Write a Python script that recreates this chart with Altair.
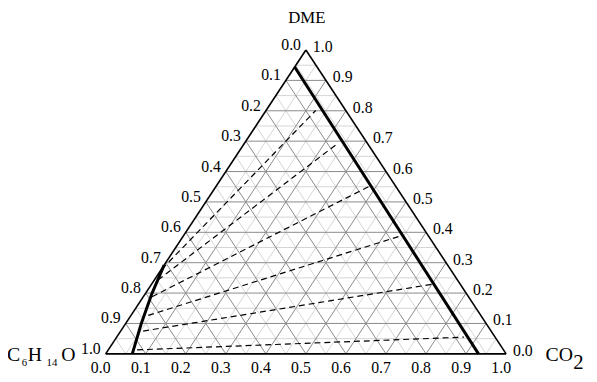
import altair as alt
import pandas as pd

# ---------------- data (ternary fractions) ----------------
minor_levels = [0.05, 0.15, 0.25, 0.35, 0.45, 0.55, 0.65, 0.75, 0.85, 0.95]
major_levels = [0.1, 0.2, 0.3, 0.4, 0.5, 0.6, 0.7, 0.8, 0.9]
tick_values = [0.0, 0.1, 0.2, 0.3, 0.4, 0.5, 0.6, 0.7, 0.8, 0.9, 1.0]

# CO2-rich boundary (CO2, DME)
right_co2 = [0.0, 0.931]
right_dme = [0.944, 0.0]
# C6H14O-rich boundary (CO2, DME)
left_co2 = [0.0, 0.016, 0.039, 0.0665]
left_dme = [0.292, 0.2, 0.1, 0.0]

# dashed lines: start / end (CO2, DME)
dash_start_co2 = [0.072, 0.056, 0.043, 0.022, 0.009, 0.001]
dash_start_dme = [0.013, 0.075, 0.1265, 0.188, 0.243, 0.279]
dash_end_co2 = [0.867, 0.705, 0.544, 0.382, 0.234, 0.124]
dash_end_dme = [0.055, 0.230, 0.389, 0.551, 0.694, 0.801]


def cart(co2, dme):
    return co2 + dme / 2.0, dme


def seg_rows(levels):
    rows = []
    for v in levels:
        for a, b in [((0, v), (1 - v, v)), ((v, 0), (v, 1 - v)), ((1 - v, 0), (0, 1 - v))]:
            x1, y1 = cart(*a)
            x2, y2 = cart(*b)
            rows.append({"x": x1, "y": y1, "x2": x2, "y2": y2})
    return pd.DataFrame(rows)


minor_df = seg_rows(minor_levels)
major_df = seg_rows(major_levels)

border_pts = [(0, 0), (1, 0), (0, 1), (0, 0)]
border_df = pd.DataFrame(
    [{"x": cart(*border_pts[i])[0], "y": cart(*border_pts[i])[1],
      "x2": cart(*border_pts[i + 1])[0], "y2": cart(*border_pts[i + 1])[1]} for i in range(3)]
)

dash_df = pd.DataFrame(
    [{"x": cart(a, b)[0], "y": cart(a, b)[1], "x2": cart(c, d)[0], "y2": cart(c, d)[1]}
     for a, b, c, d in zip(dash_start_co2, dash_start_dme, dash_end_co2, dash_end_dme)]
)

bound_rows = []
for name, cs, ds in [("right", right_co2, right_dme), ("left", left_co2, left_dme)]:
    for i, (c, d) in enumerate(zip(cs, ds)):
        x, y = cart(c, d)
        bound_rows.append({"curve": name, "order": i, "x": x, "y": y})
bound_df = pd.DataFrame(bound_rows)

bottom_df = pd.DataFrame([{"x": cart(v, 0)[0], "y": 0, "t": f"{v:.1f}"} for v in tick_values])
left_df = pd.DataFrame([{"x": cart(0, 1 - v)[0], "y": 1 - v, "t": f"{v:.1f}"} for v in tick_values])
right_df = pd.DataFrame([{"x": cart(1 - v, v)[0], "y": v, "t": f"{v:.1f}"} for v in tick_values])

# ---------------- chart ----------------
sx = alt.Scale(domain=[0, 1], nice=False, zero=False)
sy = alt.Scale(domain=[0, 1], nice=False, zero=False)
X = alt.X("x:Q", scale=sx, axis=None)
Y = alt.Y("y:Q", scale=sy, axis=None)
FONT = "Liberation Serif"


def rules(df, **kw):
    return alt.Chart(df).mark_rule(**kw).encode(x=X, y=Y, x2="x2:Q", y2="y2:Q")


minor = rules(minor_df, color="#d4d4d4", strokeWidth=1)
major = rules(major_df, color="#8a8a8a", strokeWidth=1)
border = rules(border_df, color="black", strokeWidth=1.6)
dashed = rules(dash_df, color="black", strokeWidth=1.2, strokeDash=[6, 4])
bounds = alt.Chart(bound_df).mark_line(color="black", strokeWidth=3, strokeJoin="round").encode(
    x=X, y=Y, detail="curve:N", order="order:Q"
)

bottom_lbl = alt.Chart(bottom_df).mark_text(
    font=FONT, fontSize=16, align="center", baseline="middle", dx=-5, dy=14, color="black"
).encode(x=X, y=Y, text="t:N")
left_lbl = alt.Chart(left_df).mark_text(
    font=FONT, fontSize=16, align="right", baseline="middle", dx=-5, dy=-5, color="black"
).encode(x=X, y=Y, text="t:N")
right_lbl = alt.Chart(right_df).mark_text(
    font=FONT, fontSize=16, align="left", baseline="middle", dx=7, dy=-3, color="black"
).encode(x=X, y=Y, text="t:N")


def title_txt(text, xv, yv, size, dx, dy, align="left", baseline="alphabetic"):
    return alt.Chart(pd.DataFrame([{"x": xv, "y": yv, "t": text}])).mark_text(
        font=FONT, fontSize=size, align=align, baseline=baseline, dx=dx, dy=dy, color="black"
    ).encode(x=X, y=Y, text="t:N")


titles = [
    title_txt("DME", 0.5, 1.0, 17, 1, -27, align="center", baseline="alphabetic"),
    title_txt("C", 0.0, 0.0, 20, -100, 7),
    title_txt("6", 0.0, 0.0, 11, -85, 12),
    title_txt("H", 0.0, 0.0, 20, -79, 7),
    title_txt("14", 0.0, 0.0, 11, -60, 12),
    title_txt("O", 0.0, 0.0, 20, -45, 7),
    title_txt("CO", 1.0, 0.0, 20, 40, 7),
    title_txt("2", 1.0, 0.0, 21, 68, 15),
]

chart = alt.layer(
    minor, major, border, dashed, bounds, bottom_lbl, left_lbl, right_lbl, *titles
).properties(
    width=406,
    height=308,
    padding={"left": 99, "top": 40, "right": 84, "bottom": 30},
    autosize=alt.AutoSizeParams(type="none"),
).configure_view(stroke=None)

chart.save("out.html", embed_options={"renderer": "svg", "actions": False})
